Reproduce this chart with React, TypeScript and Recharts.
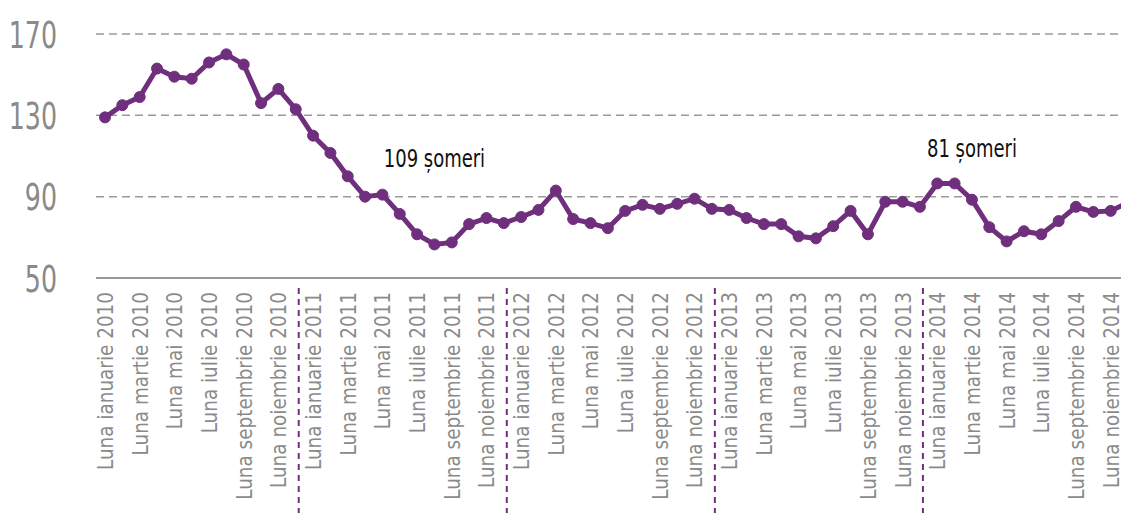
import React from 'react';
import { LineChart, Line, XAxis, YAxis, CartesianGrid, ReferenceDot } from 'recharts';

const months = ['ianuarie', 'februarie', 'martie', 'aprilie', 'mai', 'iunie', 'iulie', 'august', 'septembrie', 'octombrie', 'noiembrie', 'decembrie'];
const years = [2010, 2011, 2012, 2013, 2014];
const categories = years.flatMap((y) => months.map((m) => `Luna ${m} ${y}`));

const values2010 = [129, 135, 139, 153, 149, 148, 156, 160, 155, 136, 143, 133];
const values2011 = [120, 111.5, 100, 90, 91, 81.5, 71.5, 66.5, 67.5, 76.5, 79.5, 77];
const values2012 = [80, 83.5, 93, 79, 77, 74.5, 83, 86, 84, 86.5, 89, 84];
const values2013 = [83.5, 79.5, 76.5, 76.5, 70.5, 69.5, 75.5, 83, 71.5, 87.5, 87.5, 85];
const values2014 = [96.5, 96.5, 88.5, 75, 68, 73, 71.5, 78, 85, 82.5, 83, 87];
const values = [...values2010, ...values2011, ...values2012, ...values2013, ...values2014];

const yTicks = [50, 90, 130, 170];

const annotationIndex = [19, 50];
const annotationY = [109, 114];
const annotationText = ['109 șomeri', '81 șomeri'];

const data = categories.map((c, i) => ({ month: c, value: values[i] }));

const PURPLE = '#6f2f7d';
const GREY = '#8a8a8a';
const FONT = "'DejaVu Sans Condensed', 'DejaVu Sans', sans-serif";

const XTick = (props: any) => {
  const { x, y, payload } = props;
  const i = payload.index;
  return (
    <g>
      {i % 2 === 0 && (
        <text
          transform={`translate(${x},${y + 6}) rotate(-90) scale(0.93,1)`}
          textAnchor="end"
          dy="0.36em"
          fill={GREY}
          fontSize={22}
          fontFamily={FONT}
        >
          {payload.value}
        </text>
      )}
      {i % 12 === 11 && i < categories.length - 1 && (
        <line x1={x + 3} x2={x + 3} y1={y + 2} y2={y + 240} stroke={PURPLE} strokeWidth={2} strokeDasharray="6 5" />
      )}
    </g>
  );
};

const YTick = (props: any) => {
  const { x, y, payload } = props;
  return (
    <text
      transform={`translate(${x},${y}) scale(0.74,1)`}
      textAnchor="end"
      dy="0.36em"
      fill={GREY}
      fontSize={38}
      fontFamily={FONT}
    >
      {payload.value}
    </text>
  );
};

const makeLabel = (text: string) => (props: any) => {
  const vb = props.viewBox || {};
  const cx = vb.x + (vb.width || 0) / 2;
  const cy = vb.y + (vb.height || 0) / 2;
  return (
    <text
      transform={`translate(${cx},${cy}) scale(0.8,1)`}
      textAnchor="middle"
      dy="0.36em"
      fill="#111"
      fontSize={25}
      fontFamily={FONT}
    >
      {text}
    </text>
  );
};

export default function App() {
  return (
    <div style={{ width: 1121, height: 505, overflow: 'hidden' }}>
      <LineChart width={1129} height={505} data={data} margin={{ top: 26, right: 0, bottom: 0, left: 0 }} style={{ fontFamily: FONT }}>
        <CartesianGrid vertical={false} stroke="#999" strokeWidth={1.5} strokeDasharray="8 5" />
        <XAxis
          dataKey="month"
          interval={0}
          height={235}
          padding={{ left: 9, right: 9 }}
          tickLine={false}
          axisLine={{ stroke: '#999', strokeWidth: 2 }}
          tick={<XTick />}
        />
        <YAxis
          domain={[50, 170]}
          ticks={yTicks}
          width={88}
          axisLine={false}
          tickLine={false}
          tickSize={0}
          tickMargin={39}
          tick={<YTick />}
        />
        <Line
          dataKey="value"
          stroke={PURPLE}
          strokeWidth={5}
          dot={{ r: 5.5, fill: PURPLE, stroke: PURPLE, strokeWidth: 1 }}
          isAnimationActive={false}
        />
        {annotationIndex.map((idx, k) => (
          <ReferenceDot
            key={k}
            x={categories[idx]}
            y={annotationY[k]}
            r={0}
            fill="none"
            stroke="none"
            label={makeLabel(annotationText[k])}
          />
        ))}
      </LineChart>
    </div>
  );
}
